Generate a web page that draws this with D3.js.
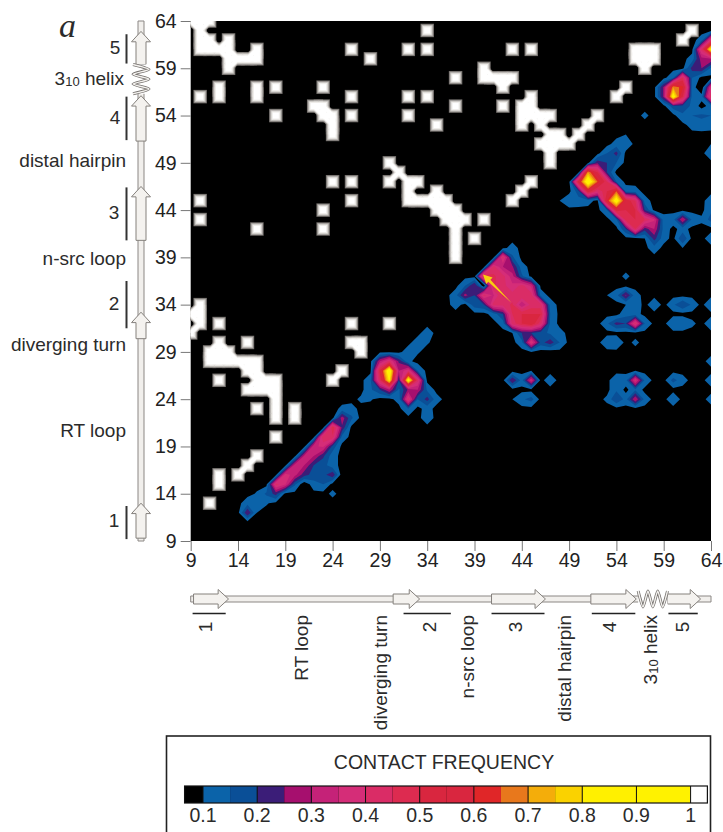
<!DOCTYPE html>
<html>
<head>
<meta charset="utf-8">
<script src="https://cdn.jsdelivr.net/npm/d3@7"></script>
<style>
  html, body { margin: 0; padding: 0; background: #fff; overflow: hidden; }
  text { font-family: "Liberation Sans", Arial, sans-serif; fill: #2b2b2b; }
</style>
</head>
<body>
<div id="chart"></div>
<script>
// residue range and tick labels
var firstRes = 9, lastRes = 64;
var resTicks = [9, 14, 19, 24, 29, 34, 39, 44, 49, 54, 59, 64];

// contact frequency colour bands, one colour per threshold
var freqThresholds = [0.1, 0.15, 0.2, 0.25, 0.3, 0.35, 0.4, 0.45, 0.5, 0.55, 0.6, 0.65, 0.7, 0.75, 0.8, 0.9];
var freqColors = ["#0b63a9", "#0a4f97", "#3b1d78", "#a60f6e", "#c52278", "#d52d78", "#da2c66", "#dd2b50",
    "#d9263f", "#d9263f", "#e02628", "#e8781c", "#f4ad0a", "#fad200", "#fff000", "#fff200"];
var legendTicks = [0.1, 0.2, 0.3, 0.4, 0.5, 0.6, 0.7, 0.8, 0.9, 1];

// level of the black background, just under the first band
var floorFreq = 0.085;

// secondary structure, in residue numbers
var strandNames = ["1", "2", "3", "4", "5"];
var barStart = [9.2, 31.5, 40.8, 51.4, 59.5];
var barEnd = [12.7, 36.5, 46.4, 56, 62.6];
var arrowStart = [9.3, 30.4, 40.8, 51.3, 59.4];
var arrowEnd = [13, 33.2, 46.5, 56.1, 62.9];
var helixRange = [56.3, 59.4];

// native contacts [x residue, y residue]
var nativeContacts = [
    [34,63], [26,61], [28,60], [32,61], [34,61], [10,56], [12,57], [12,56], [16,57], [16,56], [18,57], [18,54],
    [23,57], [26,56], [26,54], [32,56], [34,56], [32,54], [35,53], [24,47], [26,47], [26,45], [23,44], [23,42],
    [10,45], [10,43], [16,42],
    [9,64], [10,64], [11,64], [10,63], [10,62], [11,62], [13,62], [10,61], [11,61], [12,61], [13,61], [16,61],
    [13,60], [14,60], [15,60], [16,60], [13,59],
    [22,55], [23,55], [23,54], [24,54], [24,53], [24,52],
    [30,49], [31,48], [30,47], [32,47], [33,47], [32,46], [35,46], [32,45], [33,45], [34,45], [35,45], [36,45],
    [35,44], [36,44], [37,44], [36,43], [37,43], [38,43], [37,42], [37,41], [37,40], [37,39], [40,43], [39,41],
    [43,61], [45,61], [37,58], [37,55], [42,55], [40,59], [40,58], [41,58], [42,58], [43,58], [42,57],
    [45,56], [44,55], [45,55], [44,54], [45,54], [46,54], [47,54], [44,53], [46,53], [47,52], [48,52],
    [46,51], [47,51], [48,51], [49,51], [47,50], [47,49], [50,52], [51,53], [52,54], [54,56], [55,57],
    [56,61], [57,61], [58,61], [56,60], [57,60], [58,60], [57,59], [61,62], [62,63], [43,45], [44,46], [45,47],
    [10,34], [9,33], [10,33], [10,32], [9,31], [12,32], [15,30], [12,26], [16,23], [20,23], [20,22], [18,20],
    [26,32], [30,32], [26,30], [27,30], [27,29], [24,26], [25,27], [14,16], [15,17], [16,18], [12,16], [12,15], [11,13],
    [12,30], [11,29], [12,29], [13,29], [11,28], [12,28], [13,28], [14,28], [15,28], [16,28], [15,27], [16,27],
    [16,26], [17,26], [18,26], [15,25], [16,25], [17,25], [18,25], [18,24], [18,23], [18,22]
];

// simulated contact frequency [x residue, y residue, value]
var contactFreq = [
    // RT loop band
    [15,12,0.25], [15,13,0.13], [16,12,0.1], [16,13,0.14], [16,14,0.105], [17,13,0.105], [17,14,0.16], [18,14,0.22],
    [18,15,0.42], [19,15,0.36], [19,16,0.38], [20,15,0.16], [20,16,0.32], [20,17,0.33], [21,16,0.22], [21,17,0.3],
    [21,18,0.31], [22,15,0.13], [22,16,0.18], [22,17,0.2], [22,18,0.3], [22,19,0.34], [23,15,0.15], [23,16,0.18],
    [23,17,0.17], [23,18,0.21], [23,19,0.36], [23,20,0.45], [24,14,0.11], [24,16,0.24], [24,17,0.12], [24,18,0.12],
    [24,19,0.18], [24,20,0.44], [24,21,0.5], [25,16,0.07], [25,20,0.13], [25,21,0.24], [25,22,0.28], [26,22,0.16],
    [25,23,0.11], [26,23,0.12], [21,15,0.06],
    // diverging turn
    [27,24,0.11], [28,24,0.105], [28,25,0.14], [28,26,0.14], [29,25,0.2], [29,26,0.45], [29,27,0.52], [29,28,0.3],
    [30,25,0.3], [30,26,0.82], [30,27,0.92], [30,28,0.42], [31,25,0.14], [31,26,0.2], [31,27,0.3], [31,28,0.24],
    [32,23,0.15], [32,24,0.42], [32,25,0.26], [32,26,0.88], [32,27,0.4], [32,28,0.11], [33,24,0.15], [33,25,0.3],
    [33,26,0.42], [33,27,0.15], [31,24,0.12], [34,22,0.13], [34,23,0.12], [34,24,0.22], [34,25,0.14], [35,24,0.12],
    [32,29,0.13], [33,29,0.105], [33,30,0.13], [34,30,0.105], [34,31,0.13],
    // n-src / 3 contact cluster
    [43,40,0.12], [42,39,0.42], [43,39,0.16], [41,38,0.42], [42,38,0.3], [43,38,0.26], [44,38,0.12], [40,37,0.5],
    [41,37,0.46], [42,37,0.42], [43,37,0.32], [44,37,0.16], [38,36,0.15], [39,36,0.25], [40,36,0.06], [41,36,0.46],
    [42,36,0.42], [43,36,0.36], [44,36,0.42], [45,36,0.34], [37,35,0.13], [38,35,0.27], [39,35,0.2], [40,35,0.42],
    [41,35,0.34], [42,35,0.46], [43,35,0.42], [44,35,0.45], [45,35,0.42], [46,35,0.13], [37,34,0.12], [39,34,0.18],
    [40,34,0.2], [41,34,0.42], [42,34,0.42], [43,34,0.46], [44,34,0.3], [45,34,0.42], [46,34,0.42], [47,34,0.13],
    [41,33,0.12], [42,33,0.2], [43,33,0.45], [44,33,0.5], [45,33,0.5], [46,33,0.5], [47,33,0.15], [42,32,0.12],
    [43,32,0.42], [44,32,0.5], [45,32,0.55], [46,32,0.42], [47,32,0.14], [43,31,0.1], [44,31,0.2], [45,31,0.2],
    [46,31,0.17], [47,31,0.14], [48,31,0.12], [44,30,0.13], [45,30,0.4], [46,30,0.18], [47,30,0.23], [48,30,0.15],
    [45,29,0.1], [46,29,0.08], [47,29,0.07],
    // distal hairpin cluster
    [54,51,0.12], [55,52,0.1], [54,50,0.22], [55,51,0.14], [53,50,0.15], [53,49,0.2], [54,49,0.15], [52,49,0.24],
    [51,48,0.7], [52,48,0.5], [53,48,0.2], [50,47,0.55], [51,47,0.92], [52,47,0.65], [53,47,0.45], [54,47,0.15],
    [50,46,0.18], [51,46,0.55], [52,46,0.4], [53,46,0.5], [54,46,0.65], [55,46,0.13], [56,46,0.12], [48,45,0.1],
    [49,45,0.14], [50,45,0.13], [51,45,0.12], [53,45,0.6], [54,45,0.88], [55,45,0.55], [56,45,0.45], [57,45,0.12],
    [53,44,0.15], [54,44,0.55], [55,44,0.5], [56,44,0.5], [57,44,0.2], [54,43,0.14], [55,43,0.48], [56,43,0.5],
    [57,43,0.45], [58,43,0.36], [59,43,0.12], [55,42,0.2], [56,42,0.45], [57,42,0.22], [58,42,0.3], [59,42,0.13],
    [57,41,0.1], [58,41,0.22], [59,41,0.12], [58,40,0.13],
    // right hand side spots
    [60,43,0.13], [61,43,0.3], [62,43,0.14], [63,43,0.11], [64,43,0.17], [61,42,0.12], [61,41,0.2], [61,40,0.1],
    [64,44,0.14], [64,45,0.13], [64,41,0.13], [64,50,0.14], [64,51,0.1], [57,54,0.11],
    [60,58,0.14], [61,58,0.45], [62,58,0.15], [59,57,0.26], [60,57,0.7], [61,57,0.62], [62,57,0.13], [63,57,0.05],
    [64,57,0.36], [59,56,0.26], [60,56,0.88], [61,56,0.5], [62,56,0.13], [63,56,0.12], [64,56,0.45], [60,55,0.18],
    [61,55,0.18], [62,55,0.14], [63,55,0.08], [64,55,0.12], [61,54,0.14], [62,54,0.15], [63,54,0.16], [64,54,0.15],
    [62,53,0.12], [63,53,0.13], [64,53,0.12], [64,61,0.84], [63,61,0.42], [64,62,0.4], [63,62,0.12], [63,60,0.28],
    [64,60,0.3], [62,60,0.12], [62,59,0.22], [63,59,0.25], [64,59,0.14],
    // lower right spots
    [55,37,0.11], [53,35,0.1], [54,35,0.13], [55,35,0.26], [56,35,0.12], [55,34,0.1], [56,34,0.13], [58,34,0.14],
    [60,34,0.14], [61,34,0.2], [62,34,0.14], [64,34,0.15], [53,32,0.14], [54,32,0.22], [55,32,0.2], [56,32,0.42],
    [57,32,0.15], [55,33,0.13], [56,33,0.12], [60,32,0.15], [61,32,0.15], [62,32,0.11], [64,32,0.14], [53,30,0.14],
    [54,30,0.15], [56,30,0.11], [64,28,0.12], [64,26,0.13], [64,24,0.12],
    [43,26,0.25], [44,26,0.13], [45,26,0.35], [47,26,0.13], [45,27,0.1], [43,24,0.1], [44,24,0.14], [45,24,0.17],
    [54,26,0.14], [55,26,0.13], [56,26,0.38], [57,26,0.14], [56,27,0.1], [54,25,0.14], [56,25,0.14], [53,24,0.11],
    [54,24,0.2], [55,24,0.13], [56,24,0.3], [57,24,0.13], [60,26,0.17], [61,26,0.12], [60,24,0.14], [54,22,0.1],
    [57,22,0.1]
];

// yellow arrow drawn over the n-src cluster, in residue numbers
var clusterArrow = [[39.9, 37.2], [42.9, 34.2]];

var width = 723, height = 832;
var plotLeft = 190.7, plotRight = 711, plotTop = 21, plotBottom = 541;

var svg = d3.select("#chart")
    .append("svg")
    .attr("width", width)
    .attr("height", height)
    .style("display", "block");

var x = d3.scaleLinear().domain([firstRes, lastRes]).range([plotLeft, plotRight]);
var y = d3.scaleLinear().domain([firstRes, lastRes]).range([plotBottom, plotTop]);

// black plot area
svg.append("defs").append("clipPath")
    .attr("id", "plot-clip")
    .append("rect")
    .attr("x", plotLeft)
    .attr("y", plotTop)
    .attr("width", plotRight - plotLeft)
    .attr("height", plotBottom - plotTop);

svg.append("rect")
    .attr("x", plotLeft)
    .attr("y", plotTop)
    .attr("width", plotRight - plotLeft)
    .attr("height", plotBottom - plotTop)
    .attr("fill", "#000");

var plot = svg.append("g").attr("clip-path", "url(#plot-clip)");

// value grid for the contours
var n = lastRes - firstRes + 1;
var grid = new Array(n * n).fill(floorFreq);
contactFreq.forEach(function (d) {
    grid[(d[0] - firstRes) + (d[1] - firstRes) * n] = d[2];
});

var contours = d3.contours().size([n, n]).thresholds(freqThresholds)(grid);

// grid values sit on cell centres, so shift by half a cell
var contourPath = d3.geoPath(d3.geoTransform({
    point: function (a, b) {
        this.stream.point(x(firstRes + a - 0.5), y(firstRes + b - 0.5));
    }
}));

plot.append("g")
    .selectAll("path")
    .data(contours)
    .enter()
    .append("path")
    .attr("d", contourPath)
    .attr("fill", function (d, i) { return freqColors[i]; });

// arrow over the cluster
var arrowDx = x(clusterArrow[1][0]) - x(clusterArrow[0][0]);
var arrowDy = y(clusterArrow[1][1]) - y(clusterArrow[0][1]);
var arrowLen = Math.sqrt(arrowDx * arrowDx + arrowDy * arrowDy);
plot.append("polygon")
    .attr("transform", "translate(" + x(clusterArrow[0][0]) + "," + y(clusterArrow[0][1]) + ") rotate(" +
        (Math.atan2(arrowDy, arrowDx) * 180 / Math.PI) + ")")
    .attr("points", [[0, 0], [9, -4.5], [9, -1.5], [arrowLen, 0], [9, 1.5], [9, 4.5]].join(" "))
    .attr("fill", "#f8d010");

// native contacts: grey edge fading in to a white middle
var nativeLayers = [
    { size: 13.5, color: "#6f6b68" },
    { size: 12, color: "#9a9693" },
    { size: 10.5, color: "#c9c6c2" },
    { size: 8.5, color: "#efedea" },
    { size: 6, color: "#ffffff" }
];

// neighbouring contacts are joined up so they read as one shape
var isNative = {};
nativeContacts.forEach(function (d) { isNative[d[0] + "," + d[1]] = true; });
var nativeLinks = [];
nativeContacts.forEach(function (d) {
    [[1, 1], [1, -1], [1, 0], [0, 1]].forEach(function (s) {
        if (isNative[(d[0] + s[0]) + "," + (d[1] + s[1])]) {
            nativeLinks.push({ from: d, to: [d[0] + s[0], d[1] + s[1]], straight: s[0] === 0 || s[1] === 0 });
        }
    });
});

nativeLayers.forEach(function (layer) {
    var g = plot.append("g");
    g.selectAll("rect")
        .data(nativeContacts)
        .enter()
        .append("rect")
        .attr("x", function (d) { return x(d[0]) - layer.size / 2; })
        .attr("y", function (d) { return y(d[1]) - layer.size / 2; })
        .attr("width", layer.size)
        .attr("height", layer.size)
        .attr("fill", layer.color);
    g.selectAll("line")
        .data(nativeLinks)
        .enter()
        .append("line")
        .attr("x1", function (d) { return x(d.from[0]); })
        .attr("y1", function (d) { return y(d.from[1]); })
        .attr("x2", function (d) { return x(d.to[0]); })
        .attr("y2", function (d) { return y(d.to[1]); })
        .attr("stroke", layer.color)
        .attr("stroke-width", function (d) { return layer.size * (d.straight ? 1 : 0.62); });
});

// axes
var yAxis = svg.append("g")
    .attr("transform", "translate(" + plotLeft + ",0)")
    .call(d3.axisLeft(y).tickValues(resTicks).tickSize(10).tickPadding(4));
var xAxis = svg.append("g")
    .attr("transform", "translate(0," + plotBottom + ")")
    .call(d3.axisBottom(x).tickValues(resTicks).tickSize(10).tickPadding(2));

[yAxis, xAxis].forEach(function (a) {
    a.select(".domain").remove();
    a.selectAll("line").attr("stroke", "#777");
    a.selectAll("text").style("font-size", "19.5px").style("fill", "#222");
});

// secondary structure along an axis. pos is the residue scale, cross the fixed position
function drawStructure(g, pos, cross, horizontal) {
    function pt(r, off) {
        return horizontal ? [pos(r), cross + off] : [cross + off, pos(r)];
    }

    // thin coil over the whole chain
    var coil = [pt(firstRes, -3), pt(lastRes, -3), pt(lastRes, 3), pt(firstRes, 3)];
    g.append("polygon")
        .attr("points", coil.join(" "))
        .attr("fill", "#f1efec")
        .attr("stroke", "#8b8784")
        .attr("stroke-width", 1);

    // strand arrows
    g.selectAll("polygon.strand")
        .data(strandNames)
        .enter()
        .append("polygon")
        .attr("class", "strand")
        .attr("points", function (d, i) {
            var neck = arrowEnd[i] - 1.1;
            return [pt(arrowStart[i], -5), pt(neck, -5), pt(neck, -9.5), pt(arrowEnd[i], 0),
                pt(neck, 9.5), pt(neck, 5), pt(arrowStart[i], 5)].join(" ");
        })
        .attr("fill", "#f4f2ef")
        .attr("stroke", "#85817d")
        .attr("stroke-width", 1);

    // 3-10 helix zigzag
    var turns = [-8, 8, -8, 8, -8, 8, -8];
    var helix = turns.map(function (off, i) {
        return pt(helixRange[0] + (helixRange[1] - helixRange[0]) * i / (turns.length - 1), off);
    });
    var helixLine = d3.line().curve(d3.curveCardinal.tension(0.4));
    g.append("rect")
        .attr("x", horizontal ? pos(helixRange[0]) : cross - 10)
        .attr("y", horizontal ? cross - 10 : pos(helixRange[1]))
        .attr("width", horizontal ? pos(helixRange[1]) - pos(helixRange[0]) : 20)
        .attr("height", horizontal ? 20 : pos(helixRange[0]) - pos(helixRange[1]))
        .attr("fill", "#fff");
    g.append("path")
        .attr("d", helixLine(helix))
        .attr("fill", "none")
        .attr("stroke", "#75716e")
        .attr("stroke-width", 3);
    g.append("path")
        .attr("d", helixLine(helix))
        .attr("fill", "none")
        .attr("stroke", "#f4f2ef")
        .attr("stroke-width", 1.4);
}

drawStructure(svg.append("g"), y, 141, false);
drawStructure(svg.append("g"), x, 599, true);

// strand bars on the left and under the bottom diagram
svg.append("g")
    .selectAll("line")
    .data(strandNames)
    .enter()
    .append("line")
    .attr("x1", 126.5)
    .attr("x2", 126.5)
    .attr("y1", function (d, i) { return y(barStart[i]); })
    .attr("y2", function (d, i) { return y(barEnd[i]); })
    .attr("stroke", "#333")
    .attr("stroke-width", 2);

svg.append("g")
    .selectAll("line")
    .data(strandNames)
    .enter()
    .append("line")
    .attr("y1", 613.5)
    .attr("y2", 613.5)
    .attr("x1", function (d, i) { return x(barStart[i]); })
    .attr("x2", function (d, i) { return x(barEnd[i]); })
    .attr("stroke", "#222")
    .attr("stroke-width", 1.6);

// labels: y is the left hand column, x the rotated column under the chart
var leftLabelY = { "5": 49, "4": 119, "3": 214, "2": 305, "1": 522 };
var leftLabelX = { "5": 115, "4": 115, "3": 114, "2": 114, "1": 114 };
var labelSize = "19px";
strandNames.forEach(function (s) {
    svg.append("text")
        .attr("x", leftLabelX[s])
        .attr("y", leftLabelY[s])
        .attr("text-anchor", "middle")
        .attr("dominant-baseline", "middle")
        .style("font-size", labelSize)
        .text(s);
});

var loopNames = ["RT loop", "diverging turn", "n-src loop", "distal hairpin"];
var loopLeftY = [431.5, 345.5, 260, 161.5];
var loopBottomX = [303, 382, 469, 566];

loopNames.forEach(function (name, i) {
    svg.append("text")
        .attr("x", 126)
        .attr("y", loopLeftY[i])
        .attr("text-anchor", "end")
        .attr("dominant-baseline", "middle")
        .style("font-size", labelSize)
        .text(name);
    svg.append("text")
        .attr("transform", "translate(" + loopBottomX[i] + ",615) rotate(-90)")
        .attr("text-anchor", "end")
        .attr("dominant-baseline", "middle")
        .style("font-size", labelSize)
        .text(name);
});

// 3-10 helix has a subscript, so it gets tspans
function helixLabel(t) {
    t.append("tspan").text("3");
    t.append("tspan").attr("dy", 3).style("font-size", "13px").text("10");
    t.append("tspan").attr("dy", -3).text(" helix");
}
helixLabel(svg.append("text")
    .attr("x", 124)
    .attr("y", 80)
    .attr("text-anchor", "end")
    .attr("dominant-baseline", "middle")
    .style("font-size", labelSize));
helixLabel(svg.append("text")
    .attr("transform", "translate(652,615) rotate(-90)")
    .attr("text-anchor", "end")
    .attr("dominant-baseline", "middle")
    .style("font-size", labelSize));

// rotated strand numbers
var strandBottomX = [207, 431, 517, 611, 683.5];
strandNames.forEach(function (s, i) {
    svg.append("text")
        .attr("transform", "translate(" + strandBottomX[i] + ",627) rotate(-90)")
        .attr("text-anchor", "middle")
        .attr("dominant-baseline", "middle")
        .style("font-size", labelSize)
        .text(s);
});

// panel letter
svg.append("text")
    .attr("x", 59)
    .attr("y", 37)
    .style("font-family", "'Liberation Serif', serif")
    .style("font-style", "italic")
    .style("font-size", "34px")
    .text("a");

// legend box runs off the bottom of the page
svg.append("rect")
    .attr("x", 166.5)
    .attr("y", 736)
    .attr("width", 544)
    .attr("height", 110)
    .attr("fill", "#fff")
    .attr("stroke", "#222")
    .attr("stroke-width", 1.6);

svg.append("text")
    .attr("x", 444)
    .attr("y", 764)
    .attr("text-anchor", "middle")
    .attr("dominant-baseline", "middle")
    .style("font-size", "19.5px")
    .text("CONTACT FREQUENCY");

var legendX = d3.scaleLinear().domain([0.1, 1]).range([203, 690.6]);
var legendTop = 786, legendHeight = 17;
var legendLow = 0.066, legendHigh = 1.031;

var legend = svg.append("g");

legend.append("rect")
    .attr("x", legendX(legendLow))
    .attr("y", legendTop)
    .attr("width", legendX(legendHigh) - legendX(legendLow))
    .attr("height", legendHeight)
    .attr("fill", "#000");

legend.selectAll("rect.band")
    .data(freqThresholds)
    .enter()
    .append("rect")
    .attr("class", "band")
    .attr("x", function (d) { return legendX(d); })
    .attr("y", legendTop)
    .attr("width", function (d, i) {
        var next = i + 1 < freqThresholds.length ? freqThresholds[i + 1] : 1;
        return legendX(next) - legendX(d);
    })
    .attr("height", legendHeight)
    .attr("fill", function (d, i) { return freqColors[i]; });

legend.append("rect")
    .attr("x", legendX(1))
    .attr("y", legendTop)
    .attr("width", legendX(legendHigh) - legendX(1))
    .attr("height", legendHeight)
    .attr("fill", "#fff");

legend.selectAll("line")
    .data(legendTicks)
    .enter()
    .append("line")
    .attr("x1", function (d) { return legendX(d); })
    .attr("x2", function (d) { return legendX(d); })
    .attr("y1", legendTop)
    .attr("y2", legendTop + legendHeight)
    .attr("stroke", "#111")
    .attr("stroke-width", 1);

legend.append("rect")
    .attr("x", legendX(legendLow))
    .attr("y", legendTop)
    .attr("width", legendX(legendHigh) - legendX(legendLow))
    .attr("height", legendHeight)
    .attr("fill", "none")
    .attr("stroke", "#111")
    .attr("stroke-width", 1.2);

legend.selectAll("text")
    .data(legendTicks)
    .enter()
    .append("text")
    .attr("x", function (d) { return legendX(d); })
    .attr("y", 817)
    .attr("text-anchor", "middle")
    .attr("dominant-baseline", "middle")
    .style("font-size", "19.5px")
    .text(function (d) { return d; });
</script>
</body>
</html>
